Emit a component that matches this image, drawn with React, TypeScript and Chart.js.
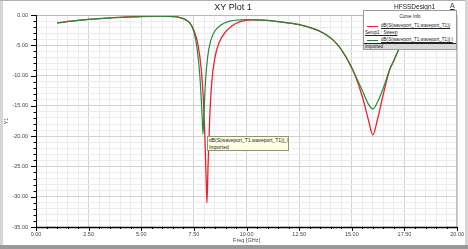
import React, { useEffect, useRef } from "react";
import { Chart, registerables } from "chart.js";

Chart.register(...registerables);

// ---- data ----
const sweepFreq = [1.0, 2.0, 3.0, 4.0, 5.0, 6.0, 6.5, 7.0, 7.3, 7.5, 7.7, 7.85, 7.95, 8.02, 8.08, 8.12, 8.17, 8.25, 8.35, 8.5, 8.7, 9.0, 9.3, 9.7, 10.2, 10.8, 11.5, 12.5, 13.2, 13.8, 14.3, 14.7, 15.1, 15.5, 15.8, 16.0, 16.2, 16.5, 16.8, 17.0, 17.3, 17.7, 18.2, 19.0, 20.0];
const sweepDb = [-1.3, -0.9, -0.6, -0.4, -0.25, -0.2, -0.25, -0.6, -1.3, -2.5, -5.0, -9.0, -14.0, -20.0, -27.0, -31.0, -25.0, -17.0, -11.0, -7.0, -4.5, -2.8, -1.8, -1.1, -0.8, -0.85, -1.1, -1.6, -2.3, -3.3, -4.8, -6.8, -9.5, -13.5, -17.5, -19.8, -17.5, -13.0, -9.0, -7.5, -5.2, -3.5, -2.4, -1.6, -1.2];

const importedFreq = [1.0, 2.0, 3.0, 4.0, 5.0, 6.0, 6.5, 7.0, 7.3, 7.5, 7.65, 7.78, 7.88, 7.93, 7.98, 8.05, 8.15, 8.3, 8.5, 8.8, 9.2, 9.7, 10.2, 10.8, 11.5, 12.5, 13.2, 13.8, 14.3, 14.7, 15.1, 15.5, 15.8, 16.0, 16.2, 16.5, 16.8, 17.0, 17.3, 17.7, 18.2, 19.0, 20.0];
const importedDb = [-1.3, -0.9, -0.6, -0.4, -0.25, -0.2, -0.25, -0.6, -1.3, -2.8, -5.5, -10.0, -16.0, -19.7, -16.0, -11.0, -7.0, -4.2, -2.6, -1.6, -1.0, -0.8, -0.75, -0.85, -1.1, -1.6, -2.3, -3.3, -4.8, -6.8, -9.5, -12.5, -14.8, -15.5, -14.5, -12.0, -9.0, -7.5, -5.2, -3.5, -2.4, -1.6, -1.2];

const xMin = 0;
const xMax = 20;
const xMajor = 2.5;
const xMinor = 0.5;
const yMin = -35;
const yMax = 0;
const yMajor = 5;
const yMinor = 1;

const seriesNames = ["dB(S(waveport_T1,waveport_T1))", "dB(S(waveport_T1,waveport_T1)) I"];
const seriesSetups = ["Setup1 : Sweep", "Imported"];
const markerText = "dB(S(waveport_T1,waveport_T1))_I";

const RED = "rgb(232,36,48)";
const GREEN = "rgb(34,139,58)";
const FONT = "Arial, 'Liberation Sans', sans-serif";

const isMult = (v: number, m: number) => Math.abs(v / m - Math.round(v / m)) < 1e-6;

const frameTicks = {
  id: "frameTicks",
  afterDraw(chart: any) {
    const { ctx, chartArea: a, scales } = chart;
    ctx.save();
    ctx.strokeStyle = "#b8b8b8";
    ctx.lineWidth = 1;
    ctx.strokeRect(a.left + 0.5, a.top + 0.5, a.right - a.left - 1, a.bottom - a.top);
    ctx.strokeStyle = "#000";
    ctx.beginPath();
    ctx.moveTo(a.left + 0.5, a.top);
    ctx.lineTo(a.left + 0.5, a.bottom);
    ctx.stroke();
    ctx.lineWidth = 1.5;
    ctx.beginPath();
    ctx.moveTo(a.left, a.bottom + 0.5);
    ctx.lineTo(a.right, a.bottom + 0.5);
    ctx.stroke();
    ctx.lineWidth = 1;
    const ys = scales.y;
    ys.ticks.forEach((t: any) => {
      const p = Math.round(ys.getPixelForValue(t.value)) + 0.5;
      const len = isMult(t.value, yMajor) ? 5 : 2.5;
      ctx.beginPath();
      ctx.moveTo(a.left - len, p);
      ctx.lineTo(a.left, p);
      ctx.stroke();
    });
    const xs = scales.x;
    xs.ticks.forEach((t: any) => {
      const p = Math.round(xs.getPixelForValue(t.value)) + 0.5;
      const len = isMult(t.value, xMajor) ? 4 : 2;
      ctx.beginPath();
      ctx.moveTo(p, a.bottom);
      ctx.lineTo(p, a.bottom + len);
      ctx.stroke();
    });
    ctx.restore();
  },
};

export default function App() {
  const ref = useRef<HTMLCanvasElement | null>(null);

  useEffect(() => {
    document.body.style.margin = "0";
    if (!ref.current) return;
    const chart = new Chart(ref.current, {
      type: "line",
      data: {
        datasets: [
          {
            label: seriesNames[1],
            data: importedFreq.map((f, i) => ({ x: f, y: importedDb[i] })),
            borderColor: GREEN,
            borderWidth: 1.2,
            pointRadius: 0,
            cubicInterpolationMode: "monotone",
            fill: false,
          },
          {
            label: seriesNames[0],
            data: sweepFreq.map((f, i) => ({ x: f, y: sweepDb[i] })),
            borderColor: RED,
            borderWidth: 1.3,
            pointRadius: 0,
            cubicInterpolationMode: "monotone",
            fill: false,
          },
        ],
      },
      plugins: [frameTicks],
      options: {
        animation: false,
        responsive: false,
        events: [],
        layout: { padding: { top: 15, right: 10, left: 3, bottom: 5 } },
        plugins: { legend: { display: false }, tooltip: { enabled: false }, title: { display: false } },
        scales: {
          x: {
            type: "linear",
            min: xMin,
            max: xMax,
            border: { display: false },
            afterFit: (s: any) => { s.height = 17; },
            afterBuildTicks: (s: any) => {
              const t = [];
              for (let v = xMin; v <= xMax + 1e-9; v += xMinor) t.push({ value: Math.round(v * 100) / 100 });
              s.ticks = t;
            },
            ticks: {
              autoSkip: false,
              maxRotation: 0,
              padding: 4,
              color: "#444",
              font: { family: FONT, size: 5.5 },
              callback: (v: any) => (isMult(Number(v), xMajor) ? Number(v).toFixed(2) : ""),
            },
            grid: {
              drawTicks: false,
              color: (c: any) => (c.tick && isMult(c.tick.value, xMajor) ? "#d2d2d2" : "#ececec"),
              lineWidth: 1,
            },
            title: { display: true, text: "Freq [GHz]", color: "#444", font: { family: FONT, size: 5.5 }, padding: { top: 0, bottom: 0 } },
          },
          y: {
            type: "linear",
            min: yMin,
            max: yMax,
            border: { display: false },
            afterFit: (s: any) => { s.width = 33; },
            afterBuildTicks: (s: any) => {
              const t = [];
              for (let v = yMin; v <= yMax + 1e-9; v += yMinor) t.push({ value: v });
              s.ticks = t;
            },
            ticks: {
              autoSkip: false,
              padding: 8,
              color: "#444",
              font: { family: FONT, size: 5.5 },
              callback: (v: any) => (isMult(Number(v), yMajor) ? Number(v).toFixed(2) : ""),
            },
            grid: {
              drawTicks: false,
              color: (c: any) => (c.tick && isMult(c.tick.value, yMajor) ? "#d2d2d2" : "#ececec"),
              lineWidth: 1,
            },
            title: { display: true, text: "Y1", color: "#444", font: { family: FONT, size: 5.5 }, padding: { top: 0, bottom: 0 } },
          },
        },
      },
    } as any);
    return () => chart.destroy();
  }, []);

  const small: React.CSSProperties = { fontFamily: FONT, fontSize: 4.6, color: "#222", whiteSpace: "nowrap", lineHeight: "6px" };

  return (
    <div style={{ position: "relative", width: 468, height: 249, background: "#fff", overflow: "hidden" }}>
      <canvas ref={ref} width={468} height={249} style={{ position: "absolute", left: 0, top: 0, width: 468, height: 249 }} />
      {/* window frame */}
      <div style={{ position: "absolute", left: 0, top: 0, width: 3, height: 249, background: "#d6d6d6" }} />
      <div style={{ position: "absolute", left: 0, top: 0, width: 468, height: 1, background: "#b0b0b0" }} />
      <div style={{ position: "absolute", right: 0, top: 0, width: 3, height: 249, background: "#d6d6d6" }} />
      <div style={{ position: "absolute", left: 0, bottom: 0, width: 468, height: 4, background: "#9a9a9a" }} />
      {/* title */}
      <div style={{ position: "absolute", left: 183, top: 1, width: 100, textAlign: "center", fontFamily: FONT, fontSize: 9, color: "#222", lineHeight: "12px" }}>XY Plot 1</div>
      <div style={{ position: "absolute", left: 394, top: 3, fontFamily: FONT, fontSize: 6.5, color: "#222", lineHeight: "8px" }}>HFSSDesign1</div>
      <div style={{ position: "absolute", left: 450, top: 2, fontFamily: FONT, fontSize: 7, color: "#333", lineHeight: "8px", textDecoration: "underline" }}>A</div>
      {/* legend */}
      <div style={{ position: "absolute", left: 363, top: 10, width: 94, height: 40, background: "#fff", border: "1px solid #9a9a9a", boxSizing: "border-box", overflow: "hidden" }}>
        <div style={{ ...small, textAlign: "center", marginTop: 3 }}>Curve Info</div>
        <div style={{ position: "absolute", left: 3, top: 15, width: 11, height: 1.2, background: RED }} />
        <div style={{ ...small, position: "absolute", left: 17, top: 12, textDecoration: "underline" }}>{seriesNames[0]}</div>
        <div style={{ ...small, position: "absolute", left: 1, top: 19, textDecoration: "underline" }}>{seriesSetups[0]}</div>
        <div style={{ position: "absolute", left: 3, top: 29, width: 11, height: 1.2, background: GREEN }} />
        <div style={{ ...small, position: "absolute", left: 17, top: 26, textDecoration: "underline" }}>{seriesNames[1]}</div>
        <div style={{ position: "absolute", left: 0, top: 32, width: 94, height: 1, background: "#222" }} />
        <div style={{ position: "absolute", left: 0, top: 33, width: 94, height: 6, background: "#d8d8d8" }} />
        <div style={{ ...small, position: "absolute", left: 1, top: 33 }}>{seriesSetups[1]}</div>
      </div>
      {/* marker label */}
      <div style={{ position: "absolute", left: 207, top: 136, width: 82, height: 15, background: "#ffffe6", border: "1px solid #8a9a6a", boxSizing: "border-box", overflow: "hidden" }}>
        <div style={{ ...small, fontSize: 5, lineHeight: "6.5px", marginLeft: 1 }}>{markerText}</div>
        <div style={{ ...small, fontSize: 5, lineHeight: "6.5px", marginLeft: 1 }}>{seriesSetups[1]}</div>
      </div>
    </div>
  );
}
